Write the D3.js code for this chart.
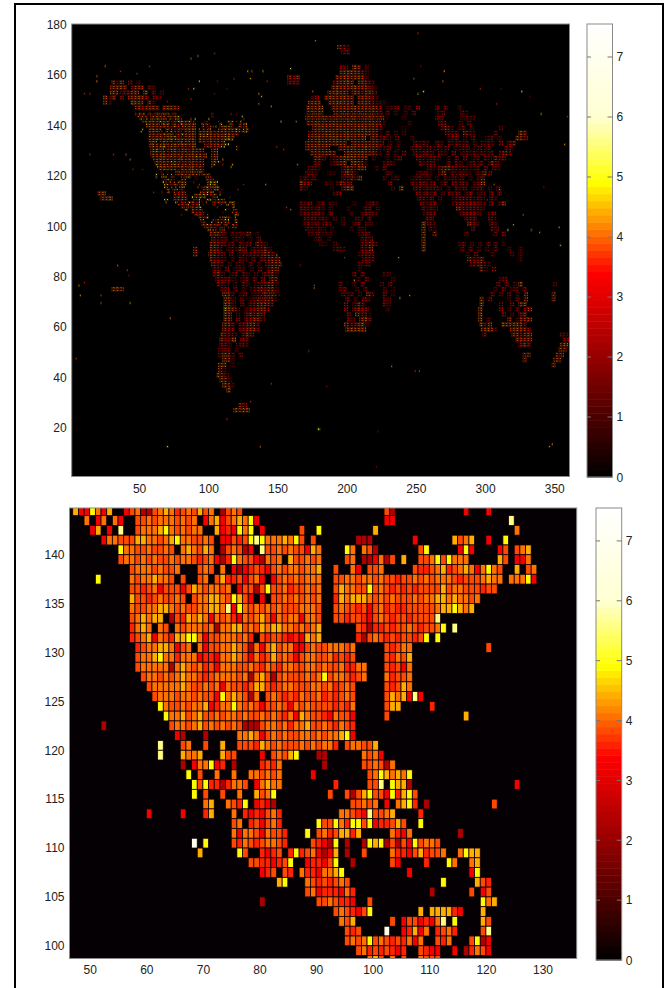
<!DOCTYPE html>
<html><head><meta charset="utf-8">
<script src="https://cdn.jsdelivr.net/npm/d3@7/dist/d3.min.js"></script>
<style>html,body{margin:0;padding:0;background:#fff;overflow:hidden}svg{display:block}text{font-family:"Liberation Sans",Arial,sans-serif;font-size:12px;fill:#222}</style>
</head><body><svg id="c" width="667" height="988"></svg>
<script>
// value of each colour letter read against the colour bar
const levelValues={d:1.7,a:2.3,r:3.2,R:3.6,o:3.85,O:4.05,y:4.42,Y:4.85,p:5.6,w:7};
// the coarse world blocks average over several cells, so they read darker
const blockValues={d:1.3,a:1.9,r:2.7,R:3.0,o:3.4,O:3.8,y:4.1,Y:4.7};
const xTicksTop=[50,100,150,200,250,300,350];
const yTicksTop=[20,40,60,80,100,120,140,160,180];
const xTicksZoom=[50,60,70,80,90,100,110,120,130];
const yTicksZoom=[100,105,110,115,120,125,130,135,140];
const barTicks=[0,1,2,3,4,5,6,7];
const barMax=7.55;
// colour map stops
const cmapValues=[0,3.4,4.9,6,7.55];
const cmapColors=["#000000","#ff0000","#ffff00","#ffffd2","#ffffff"];

// zoomed panel: [row, "startColumn:letters ..."], one letter per cell
const zoomRows=[
[144,"47:yrrYOry 56:roOaaoOyORoOoyoO 73:aoOo 102:oa 116:r 120:r"],
[143,"49:O 51:rO 54:Or 58:ooOoOOOoOoO 70:rOyroOyOYr 102:rr 124:p"],
[142,"50:ry 53:r 55:p 58:oOOOyYOoOoOO 72:yrRrYOY 80:r 87:o 90:Y 100:y 125:O"],
[141,"52:rOOoooyyOOoOyYOOooOo 73:rroRoYpYOOOyOYo 89:o 97:aaa 107:r 114:yoOy 120:r 123:Y"],
[140,"55:YOOooOooOo 66:OyOoyO 73:aoOoar 80:pooOoOooryO 95:YO 98:Ooa 108:oY 115:rYr 122:ro 125:oOy"],
[139,"55:oOOoOoOooOoOOoRoOraRYOooraOoO 85:yooOoO 95:oO 98:aarOao 105:y 108:ooOYoYOOO 122:yo 125:rrO"],
[138,"57:oOOOoOooO 69:oOo 73:O 75:rarRoRroOoOOoOOy 93:o 96:Or 99:ooO 107:oRRoOyRoOyOr 119:OYOo 125:y 127:oO"],
[137,"51:Y 57:OoOOyOOo 66:o 69:oO 72:oyRRoroOr 82:roOoOoOOO 93:ooOOoOOoOooRooOoOoOOOoRoooOyOO 124:OOOYr"],
[136,"57:ooRoOroooroyOoOOoO 76:rooaoYooORooOoO 93:oyOOooYoOoRoRoRooooyoOOoooRoo"],
[135,"57:yooRoOooOo 68:oOOyyOoYyor 80:r 82:ooOoOoOoO 93:RyOyyyOoOoOoooOoOOyyOyOOoO"],
[134,"57:OooOOyyOoOooOOyyOprYOoOoOoOoooOOOo 93:oOooRoroORoRRoooooOyyYyOy"],
[133,"57:oOyOyy 64:aoRyOyOrOoORrOoOyorOoOOrOOo 93:ooRooRroOoRooRoooop"],
[132,"57:ROyO 62:Oo 65:OoOOOoOaOOyyoOoyOyyOOoOoOy 97:oRaRRoRooOoRooOY 114:p"],
[131,"57:RoOyrOoRyyYYOrooOOOoOR 80:oRooRrRryOy 97:RaoOoRoRooRo 109:Y 111:Y"],
[130,"58:RoOOyyOroO 69:OrooOOyOoaOrOyoOOrroOo 91:oOOOoO 102:oRoOO 120:o"],
[129,"58:oOOyYOOROOOrRRrOOyOorORoyoOoroOOo 91:oORoRo 102:oROoy"],
[128,"58:oOOOOOaOyOoORorOOOooOoROoROOooOOo 91:OooORROO 102:oRorO"],
[127,"59:oOOoOoOyOOoRoOOOOoOaOyoaoOoooOoOY 92:oOOoRoO 102:ORooO"],
[126,"60:oOOOOOyOooOoOrOooRoyyoRoOOoooOOoORoOo 102:oRoyO"],
[125,"61:oOOOoOOoOoorYOyOoaO 81:oOoRoROooORoRoOo 102:oyOyr 107:pr"],
[124,"62:YOooOoOOyrROOYOoOorooOorOoOooooRoRO 102:oyy 110:R"],
[123,"63:YOOyoOyooOoOOoOooOoOoROryOooRrOoor 102:o 116:y"],
[122,"52:a 64:oOOoOyoOoOoOoaaaoOOoOROOyooOoROoR"],
[121,"65:ra 70:a 76:OOyOroOoOooOOoOoOOyYr"],
[120,"62:p 66:oO 70:o 73:y 76:oooRyOoOoooOoOoOOR 95:oOOooy"],
[119,"62:p 66:yOOy 73:yoo 80:r 82:oOoyY 90:aa 98:OoOr"],
[118,"66:a 68:rOOYrR 75:a 80:RoRO 91:a 98:ooOoaO"],
[117,"67:Y 69:o 72:O 75:O 78:OOoOoO 89:r 99:oOYyOyOY"],
[116,"68:YoYRRaROOo 79:rOyOO 93:R 99:oop 103:Yyya 125:r"],
[115,"68:Y 70:o 73:o 76:O 79:yoOY 92:o 95:oaoyYoo 102:rYRyYo"],
[114,"70:Oy 74:OoRY 79:rRra 96:ooOoO 102:r 104:OyYR 109:a 121:o"],
[113,"60:r 66:r 70:Ry 75:O 77:RrRroOR 94:OOoRrpooOy 108:R"],
[112,"75:oO 78:RoroOR 90:YooYORYYoYrRRoyo 108:Y"],
[111,"75:OrOOorOoo 84:R 88:Y 90:oORoyyR 97:y 103:ORrO 115:a"],
[110,"68:w 70:Y 75:oROoRoOOoR 89:oRraY 95:a 98:aYyYaoaorYoOOo"],
[109,"69:y 76:Yo 80:RrRo 85:RYRoOrary 95:a 98:o 103:ORRroyRooO 115:OYyy"],
[108,"78:ooRRr 83:RoY 88:rRRroY 96:a 103:or 109:R 113:YO 117:Oy"],
[107,"80:rRo 84:oR 87:ORRrOOyY 106:r 117:rY"],
[106,"83:yY 88:OoRoRoOo 112:Y 118:yoR"],
[105,"88:oOrRRRrO 96:R 110:a 117:o 119:ro"],
[104,"80:a 90:ooOoRRr 99:o 119:YOy"],
[103,"93:oOoRroY 108:y 110:yyyyRr 119:y"],
[102,"94:Ooy 103:o 105:roorRrO 112:p 114:Y 119:yo"],
[101,"95:oRo 102:w 105:rRyrO 111:RoOR 119:op"],
[100,"95:oOoOYoOoRoROrO 111:oRO 117:oYar"],
[99,"97:oORoRoRrR 108:oRrr 114:r 116:aROor"],
[98,"99:Oyo 103:O 105:o 108:Oo 110:oo"]
];

// world panel, outside the zoomed area: one letter per block of 3 columns by 2 rows
const worldBlocks=[
[170,"193:Ooa"],[168,"196:Ro"],
[162,"195:oa.yO.a"],[160,"195:OOyOOoa"],[158,"157:ORO 192:OOyOOyOa"],
[156,"30:OaO.R.a. 157:RoR 190:oOOyO.OOoa"],
[154,"29:OOyO.ROO.Ra 189:OyOOOyOOOod"],
[152,"29:yOaRoOO.y.R.a 186:OOyOOaOOoOOr"],
[150,"24:yaO 36:R 42:OOyOR.oa 174:ao 184:OyOOyOO.OOOoa"],
[148,"24:Oa 44:yOO.Oa 172:OOO 187:OOyOOO.OOOoa 223:ad"],
[146,"47:Oy.OOa 60:R 52:oOOO.OyOO 171:yOOy 189:OOOOOyOOOOOo.ar 232:aR.a 244:a.R 264:R 270:R 280:a"],
[144,"171:OyOy 190:OOyOOOyOOOOo 228:R.a 238:.a.R 262:.aR 282:Ra"],
[142,"170:OyOOyOOOyOOyOOOyOOOd 240:a 264:Ro 282:aRa 290:a"],
[140,"171:OOyOOOyOOOyOOOOyOOa 244:a 266:oR 278:.a.R"],
[138,"172:.OOyOOOyOOOOyyOOOR 240:d 268:oOa 280:aR.a 310:a"],
[136,"172:oOOOyyOOOyOOyOyOOd 228:R.a.a 268:.oR 278:R.ORa 306:R 324:yO"],
[134,"172:OOyOOyyyOyOOOy.OOr 226:oa.R 246:a 272:aRo.a.R 300:aR.a 322:yOo"],
[132,"170:OOOyOyOyyO.OOOOOOOa 224:R.a.a 248:RaRa 264:Ra.RaRaR.a.R 298:aRa.R 316:oO"],
[130,"170:OOyOOO..OOOyOOyOOOa 226:aR.a 246:RoRaR 262:aRaR.aaRR.aRaR 314:oR"],
[128,"174:OOOOyO..OyOyyOOOd 222:a 228:R.a.R 248:RaRoR.Ra 270:a.R.aRaRaRaR 310:ROR"],
[126,"176:OOr.roOyyyOOO.a 228:a.aR 250:RRaRoa 272:a.R.R.aR.Ra.R 306:ORo"],
[124,"176:or..aoOy.yyOa 226:aRa 252:RaRR 272:R.Ra.aRaR.aRa 304:OR"],
[122,"172:rRa 196:ROOoyO 220:a.R 258:Ra 266:oOyoRaRaaR.R.Ra"],
[120,"170:RRa 186:ad 196:oyOa 228:Ra 250:aRRa 266:Ry.RaRRa.Ra.R 298:y"],
[118,"166:ao 172:aR 196:RoOr 208:y 226:a.aR 246:aRRaR.a.RaRaR.a.RO"],
[116,"166:yoR 184:ad 192:aOro 230:R 246:RaRRaR.aR.RaRa.aRy"],
[114,"166:oa 188:d 196:oyy 232:a.y 248:RRaRRRa.a.RaR.aRR.a.R"],
[112,"20:Oy 190:aR 250:RaRaR.a 270:.RaR.aR.aa.R.R"],
[110,"22:OOy 251:RRaR.a 273:.aRoRRaRa.Ra"],
[108,"166:raR.aR.ad 204:d 214:aRa 253:RaRR 276:aRoRoRRa.R.aO"],
[106,"166:RRraRa.a 200:d 212:rR.a 254:RaRa 279:ORRoRRa"],
[104,"166:aRaRRa.R 202:a 210:aRRa 255:aRR 282:RoRRa 302:aR"],
[102,"166:.RrRaRa 190:a.a 206:ra.R 257:RR 285:RRR 302:Ra"],
[100,"168:aRaRdRa 196:a 204:aR.aa 254:y 258:Ra 287:ORa 303:Ra"],
[98,"170:RRaRa.a 202:a.ra 254:y 259:Ra 290:R 304:oR"],
[96,"101:OyOR.RaRaO.a 172:raRa 184:aa 208:aRo 254:y 262:O 282:.R 306:R.o"],
[94,"102:ORoR.aRa.a.R 176:aR 186:a 210:RoR 254:y"],
[92,"101:OOoRaR.RaR.ORa 180:ad 190:a 210:RoOr 254:y 280:aR.a 292:.a.R 306:R 312:d"],
[90,"89:O 101:OOR.aRaOR.RRoOa 190:aRa 210:oRO 254:y 282:R.R.a 300:a.R 316:a 324:a"],
[88,"89:O 100:OOoR.R.aRaRoROOo 208:aRoR 286:a.R 304:a 318:a.a"],
[86,"101:OoRa.a.Ra.R.oROOO 208:.RoR 287:ORoO 324:a"],
[84,"102:OoR.a.Ra.R.a.oOOO 208:RaR 289:oRORa 298:.a"],
[82,"103:oR.R.aRa.a.R.oOO 208:a 296:Oa.o"],
[80,"103:oOa.aR.Ra.a.RoOa 204:R.R 226:aa"],
[78,"105:ooRRa.aR.R.R.OO 204:.a.R 232:a 310:aR"],
[76,"106:oRa.a.Ra.aRoOOa 194:R 204:a.R 224:a.R 308:R.R.a 324:y 349:a"],
[74,"30:y 33:yO 109:oR.R.a.aROoOOa 194:RR 206:a.r 226:a.R 232:d 306:a.R.aR.o"],
[72,"110:yOR.aR.aRoOOOa 196:RaR.a.yR 226:R.a 304:R 310:a.R.a.O 348:O"],
[70,"111:yOa.R.aROoOOa 196:.R.a.oR 226:ra 296:y 302:R 316:a.R 328:O 348:O"],
[68,"111:yOa.R.RoOOOo 198:R.aOR 226:Ra 296:y 310:a 318:R.Oy"],
[66,"111:YyOa.aRoOOo 198:R.ROoR 228:a 295:y 310:R.a.R.oO"],
[64,"111:yO.a.ROoOo 200:R.OoRd 295:y 312:R.a.oO"],
[62,"111:yO.R.RoOOa 200:Ra.Oyo 295:y.a 316:O.aOOO"],
[60,"110:OOR.RoOOo 198:ORoOya 296:yRO 312:yOOyOo"],
[58,"110:OoR.RoOOo 199:OyOyO 297:OyOa 318:OyOOR"],
[56,"109:OoRa.ROo 298:o 319:OOoOO 354:ra"],
[54,"108:OoRy.oR 322:OOOO 356:Ro"],
[52,"108:oRa.aRa 324:oOo 354:Oy"],
[50,"107:RoR.a 353:yO"],
[48,"107:oyOR.R 327:OO 351:OO"],
[46,"107:.yOa 327:O 349:Oy"],
[44,"107:yy.a 348:O"],
[42,"107:Oa"],[40,"106:yOa"],[38,"108:yOa"],[36,"110:yOa"],[34,"113:y"],
[28,"122:OR"],[26,"118:yOyy"]
];

// single scattered cells of the world panel: column, row, colour letter
const worldDots=["104,168,R","87,166,y","92,167,O","25,163,O","36,161,R","48,160,O","57,163,R","19,159,O","19,157,y","118,158,R","128,161,y","131,161,O","139,161,y","130,158,y","142,157,R","159,162,p","93,157,y","89,154,p","85,154,R","106,157,a","113,154,a","136,152,y","138,151,y","145,147,y","136,148,O","104,152,a","87,150,R","70,149,r","77,147,a","152,141,p","163,141,y","175,153,O","120,131,O","149,131,R","154,130,R","164,124,O","141,116,y","110,126,y","117,124,y","14,128,R","31,128,R","40,128,O","43,126,y","45,122,R","52,138,y","10,152,R","14,152,R","24,151,O","156,107,R","159,106,O","251,176,R","177,173,O","270,161,y","253,163,a","248,158,O","269,157,O","255,153,p","251,152,y","326,153,p","296,154,R","311,154,a","308,148,R","340,144,y","359,143,R","332,151,a","357,132,y","342,115,a","316,98,p","320,100,y","333,98,p","339,97,y","353,99,p","327,104,O","354,92,y","310,114,y","306,116,y","301,110,R","34,84,O","41,82,R","42,80,a","10,77,R","6,76,y","7,72,y","22,72,y","22,69,O","43,69,y","72,63,O","4,47,O","149,88,y","166,84,a","176,76,O","172,50,O","145,37,R","130,30,R","180,19,y","70,12,Y","137,12,O","113,23,R","232,44,O","249,42,R","252,42,R","185,36,a","179,19,Y","222,18,a","221,4,a","346,12,y","348,13,y","237,87,y","238,71,y","245,72,y","176,75,O","205,78,y","198,87,R"];

const svg=d3.select("#c");
const defs=svg.append("defs");
defs.append("filter").attr("id","soft").attr("x","-2%").attr("y","-2%").attr("width","104%").attr("height","104%")
  .append("feGaussianBlur").attr("stdDeviation",0.45);
svg.append("rect").attr("x",15).attr("y",4).attr("width",648).attr("height",1010).attr("fill","#fff").attr("stroke","#000").attr("stroke-width",2);

const color=d3.scaleLinear().domain(cmapValues).range(cmapColors).clamp(true);
const bands=64;
const levelOf=v=>Math.min(bands-1,Math.floor(v/barMax*bands));
const quant=v=>color((levelOf(v)+.5)/bands*barMax);

function parseRows(rows,spanC,spanV,table){
  const out=[];
  rows.forEach(([v,s])=>s.split(" ").forEach(seg=>{
    const [c0,letters]=seg.split(":");
    [...letters].forEach((ch,i)=>{
      const val=table[ch]; if(val===undefined)return;
      for(let a=0;a<spanC;a++)for(let b=0;b<spanV;b++)
        out.push({c:+c0+i*spanC+a,v:v+b,val});
    });
  }));
  return out;
}
const zoomCells=parseRows(zoomRows,1,1,levelValues);
const worldCells=parseRows(worldBlocks,3,2,blockValues).concat(zoomCells,
  worldDots.map(d=>{const [c,v,ch]=d.split(",");return {c:+c,v:+v,val:levelValues[ch]};}));

function panel(o){
  const x=d3.scaleLinear().domain(o.xd).range([o.l,o.r]);
  const y=d3.scaleLinear().domain(o.yd).range([o.b,o.t]);
  const id="clip"+o.name;
  svg.append("clipPath").attr("id",id).append("rect").attr("x",o.l).attr("y",o.t).attr("width",o.r-o.l).attr("height",o.b-o.t);
  svg.append("rect").attr("x",o.l).attr("y",o.t).attr("width",o.r-o.l).attr("height",o.b-o.t).attr("fill",o.bg);
  svg.append("g").attr("clip-path",`url(#${id})`).append("g").attr("filter","url(#soft)")
    .selectAll("rect").data(o.cells).join("rect")
    .attr("x",d=>x(d.c)).attr("y",d=>y(d.v+1))
    .attr("width",d=>x(d.c+1)-x(d.c)).attr("height",d=>y(d.v)-y(d.v+1))
    .attr("fill",d=>quant(d.val)).attr("stroke",o.edge).attr("stroke-width",o.sw);
  svg.append("rect").attr("x",o.l).attr("y",o.t).attr("width",o.r-o.l).attr("height",o.b-o.t).attr("fill","none").attr("stroke","#8a8a8a").attr("stroke-width",1);
  const ax=svg.append("g").attr("transform",`translate(0,${o.b})`).call(d3.axisBottom(x).tickValues(o.xt).tickSize(0).tickPadding(o.xpad));
  const ay=svg.append("g").attr("transform",`translate(${o.l},0)`).call(d3.axisLeft(y).tickValues(o.yt).tickSize(0).tickPadding(o.ypad));
  ax.select(".domain").remove(); ay.select(".domain").remove();
  svg.selectAll(".tick text").style("font-size","12px").attr("fill","#222");
  // colour bar
  const cb=d3.scaleLinear().domain([0,barMax]).range([o.cbb,o.t]);
  svg.append("g").selectAll("rect").data(d3.range(bands)).join("rect")
    .attr("x",o.cbl).attr("width",o.cbr-o.cbl)
    .attr("y",i=>cb((i+1)/bands*barMax)).attr("height",i=>cb(i/bands*barMax)-cb((i+1)/bands*barMax)+.5)
    .attr("fill",i=>color((i+.5)/bands*barMax));
  svg.append("rect").attr("x",o.cbl).attr("y",o.t).attr("width",o.cbr-o.cbl).attr("height",o.cbb-o.t).attr("fill","none").attr("stroke","#8a8a8a");
  const t=svg.append("g").selectAll("g").data(barTicks).join("g").attr("transform",d=>`translate(0,${cb(d)})`);
  t.filter(d=>d>0).append("line").attr("x1",o.cbl).attr("x2",o.cbl+4).attr("stroke","#777");
  t.filter(d=>d>0).append("line").attr("x1",o.cbr-5).attr("x2",o.cbr).attr("stroke","#777");
  t.append("text").attr("x",o.cbr+4).attr("dy",d=>d===0?"0.45em":"0.36em").text(d=>d);
}
panel({name:"T",xd:[1.3,361],yd:[0.7,180.2],l:71.7,r:569.5,t:24,b:476.5,bg:"#000",cells:worldCells,edge:"#000",sw:0.62,
  xt:xTicksTop,yt:yTicksTop,xpad:8,ypad:5,cbl:587,cbr:612.5,cbb:477});
panel({name:"B",xd:[46.43,136.04],yd:[98.7,144.78],l:69.5,r:576.7,t:508,b:958.5,bg:"#050003",cells:zoomCells,edge:"#100000",sw:0.8,
  xt:xTicksZoom,yt:yTicksZoom,xpad:7,ypad:5,cbl:596,cbr:621.7,cbb:960});
</script></body></html>
